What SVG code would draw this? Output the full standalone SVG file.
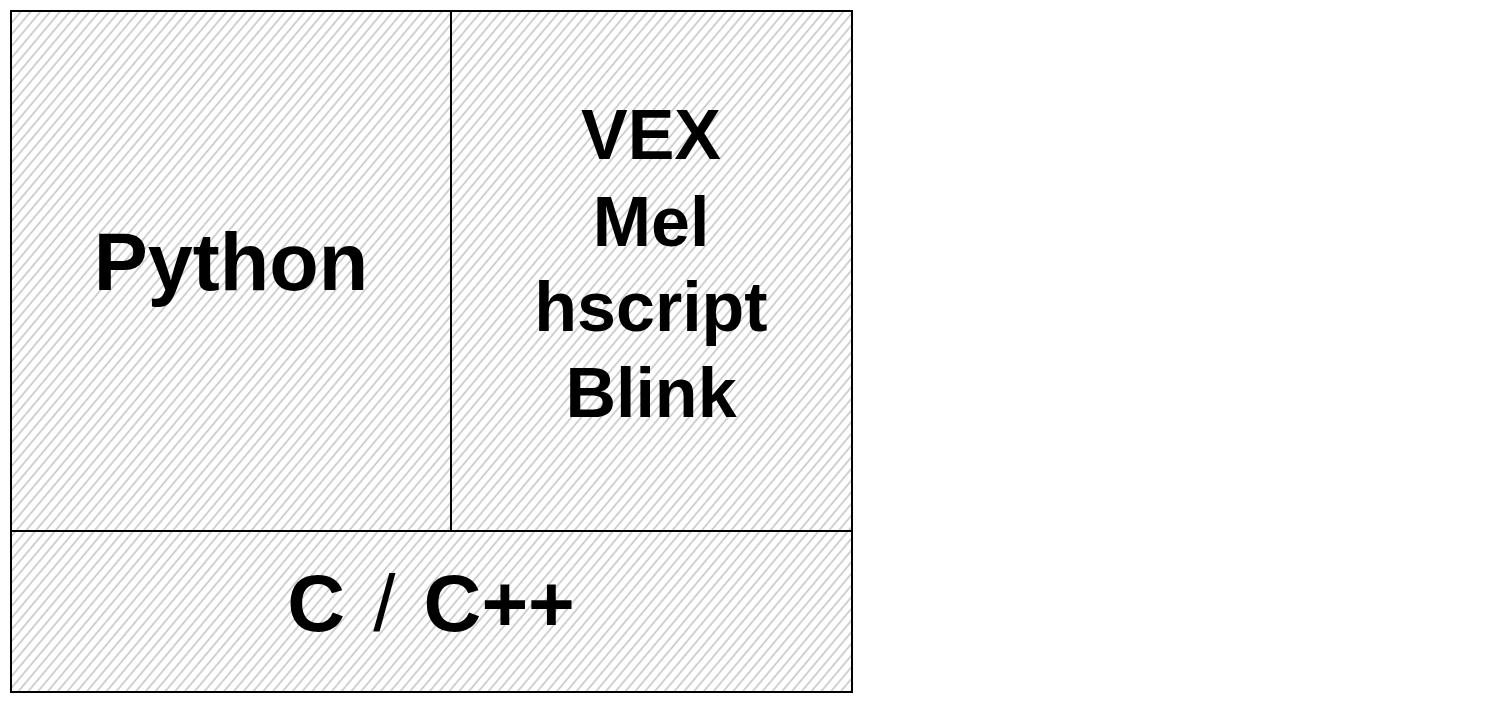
<svg xmlns="http://www.w3.org/2000/svg" width="1502" height="702" viewBox="0 0 1502 702">
  <defs>
    <pattern id="hatch" patternUnits="userSpaceOnUse" width="7.5" height="7.5" patternTransform="rotate(40)">
      <line x1="1" y1="0" x2="1" y2="7.5" stroke="#b4b4b4" stroke-width="1.2"/>
    </pattern>
  </defs>
  <style>
    .box { fill: url(#hatch); stroke: #000; stroke-width: 2; }
    .lbl { font-family: "Liberation Sans", Arial, sans-serif; font-weight: bold; fill: #000; text-anchor: middle; }
  </style>
  <rect width="1502" height="702" fill="#fff"/>
  <g id="python">
    <rect class="box" x="11" y="11" width="440" height="520"/>
    <text class="lbl" x="231" y="290" font-size="81">Python</text>
  </g>
  <g id="scripting">
    <rect class="box" x="451" y="11" width="401" height="520"/>
    <text class="lbl" x="651" y="159" font-size="70">VEX</text>
    <text class="lbl" x="651" y="246" font-size="70">Mel</text>
    <text class="lbl" x="651" y="331" font-size="70">hscript</text>
    <text class="lbl" x="651" y="417" font-size="70">Blink</text>
  </g>
  <g id="cpp">
    <rect class="box" x="11" y="531" width="841" height="161"/>
    <text class="lbl" x="431" y="631" font-size="80" word-spacing="6">C <tspan font-weight="normal">/</tspan> C++</text>
  </g>
  <g id="connectors"/>
</svg>
